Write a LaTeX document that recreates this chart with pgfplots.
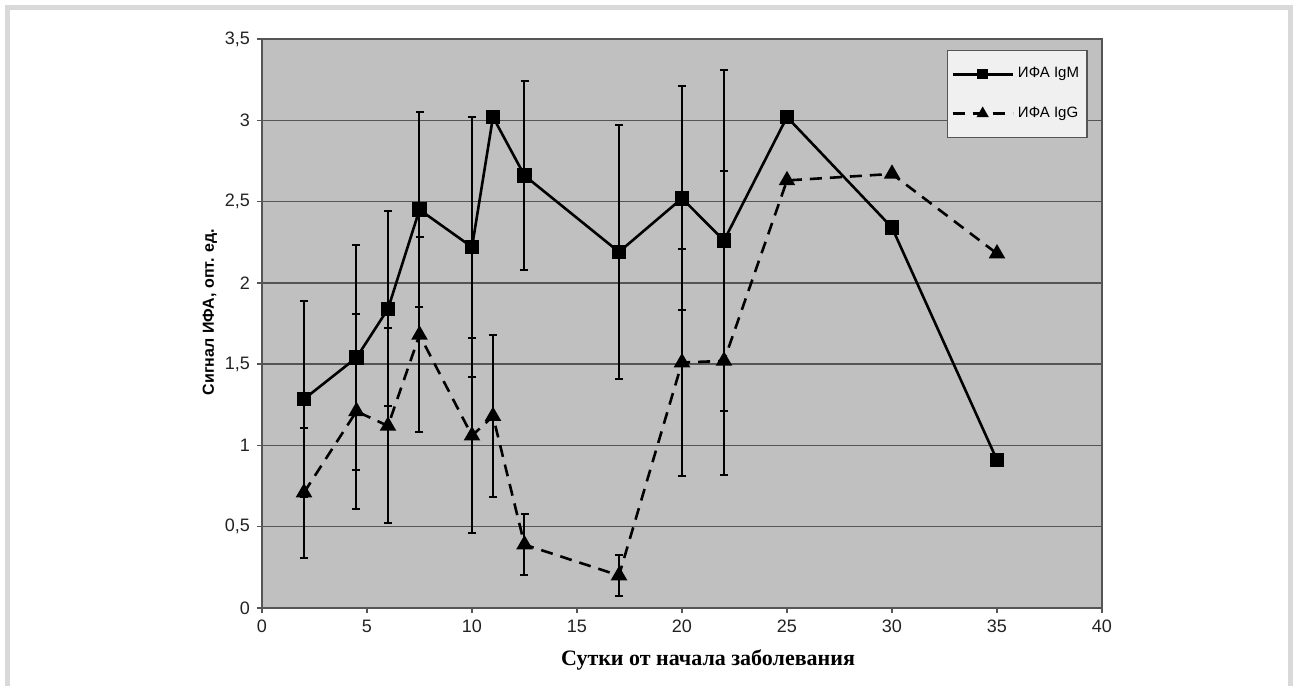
\documentclass[border=0pt]{standalone}
\usepackage{fontspec}
\setmainfont{Liberation Sans}
\newfontfamily\timesfont{Liberation Serif}
\usepackage{pgfplots}
\pgfplotsset{compat=1.18}
\definecolor{PlotBg}{HTML}{C0C0C0}
\definecolor{GridGray}{HTML}{555555}
\definecolor{FrameGray}{HTML}{D9D9D9}
\definecolor{LegFill}{HTML}{F0F0F0}
\definecolor{TickText}{HTML}{222222}

\begin{document}
\begin{tikzpicture}
\useasboundingbox (-131pt,-39pt) rectangle (517pt,304pt);
% light frame round the figure
\fill[FrameGray] (-128.5pt,-39pt) rectangle (-126pt,301.5pt);
\fill[FrameGray] (-128.5pt,299pt) rectangle (515.5pt,301.5pt);
\fill[FrameGray] (513pt,-39pt) rectangle (515.5pt,301.5pt);
\begin{axis}[
  at={(0,0)}, anchor=south west,
  scale only axis, width=420pt, height=284.5pt,
  xmin=0, xmax=40, ymin=0, ymax=3.5,
  xtick={0,5,...,40}, ytick={0,0.5,...,3.5},
  xtick pos=bottom, ytick pos=left, tick align=outside,
  major tick length=2.5pt,
  tick style={GridGray, line width=0.7pt},
  axis line style={GridGray, line width=0.8pt},
  axis background/.style={fill=PlotBg},
  ymajorgrids, major grid style={GridGray, line width=0.75pt},
  /pgf/number format/assume math mode=true,
  /pgf/number format/use comma,
  ticklabel style={font=\fontsize{9}{10}\selectfont, text=TickText},
  xlabel={Сутки от начала заболевания},
  xlabel style={font=\timesfont\bfseries\fontsize{11}{12}\selectfont,
    at={(axis description cs:0.531,-0.091)}, anchor=center},
  ylabel={Сигнал ИФА, опт. ед.},
  ylabel style={font=\bfseries\fontsize{8}{9}\selectfont,
    at={(axis description cs:-0.062,0.52)}, anchor=center},
  legend style={at={(axis description cs:0.983,0.981)}, anchor=north east,
    fill=LegFill, draw=GridGray, line width=0.7pt,
    font=\fontsize{7.5}{8}\selectfont, inner xsep=2pt, inner ysep=6.5pt,
    row sep=9pt, cells={anchor=west}},
  legend image code/.code={\draw[mark repeat=2, mark phase=2,
      every mark/.append style={scale=0.65}]
    plot coordinates {(0pt,0pt) (15pt,0pt) (30pt,0pt)};},
  error bars/error mark options={rotate=90, line width=1pt, mark size=2pt},
  error bars/error bar style={line width=1pt},
]
% IgM error bars
\addplot[black, only marks, mark=none, forget plot,
  error bars/.cd, y dir=both, y explicit]
  coordinates {
  (2,1.285) +- (0,0.605)
  (4.5,1.54) +- (0,0.69)
  (6,1.84) +- (0,0.60)
  (7.5,2.45) +- (0,0.60)
  (10,2.22) +- (0,0.80)
  (12.5,2.66) +- (0,0.58)
  (17,2.19) +- (0,0.78)
  (20,2.52) +- (0,0.69)
  (22,2.26) +- (0,1.05)
};
\addplot[black, line width=1.3pt, mark=square*, mark size=3pt,
  mark options={solid}] coordinates {
  (2,1.285) (4.5,1.54) (6,1.84) (7.5,2.45) (10,2.22) (11,3.02)
  (12.5,2.66) (17,2.19) (20,2.52) (22,2.26) (25,3.02) (30,2.34) (35,0.91)
};
\addlegendentry{ИФА IgM}
% IgG error bars
\addplot[black, only marks, mark=none, forget plot,
  error bars/.cd, y dir=both, y explicit]
  coordinates {
  (2,0.71) +- (0,0.40)
  (4.5,1.21) +- (0,0.60)
  (6,1.12) +- (0,0.60)
  (7.5,1.68) +- (0,0.60)
  (10,1.06) +- (0,0.60)
  (11,1.18) +- (0,0.50)
  (12.5,0.39) +- (0,0.19)
  (17,0.20) +- (0,0.125)
  (20,1.51) +- (0,0.70)
  (22,1.52) += (0,1.17) -= (0,0.70)
};
\addplot[black, line width=1.3pt, dash pattern=on 6pt off 4pt,
  mark=triangle*, mark size=3.5pt, mark options={solid}] coordinates {
  (2,0.71) (4.5,1.21) (6,1.12) (7.5,1.68) (10,1.06) (11,1.18)
  (12.5,0.39) (17,0.20) (20,1.51) (22,1.52) (25,2.63) (30,2.67) (35,2.18)
};
\addlegendentry{ИФА IgG}
\end{axis}
\end{tikzpicture}
\end{document}
